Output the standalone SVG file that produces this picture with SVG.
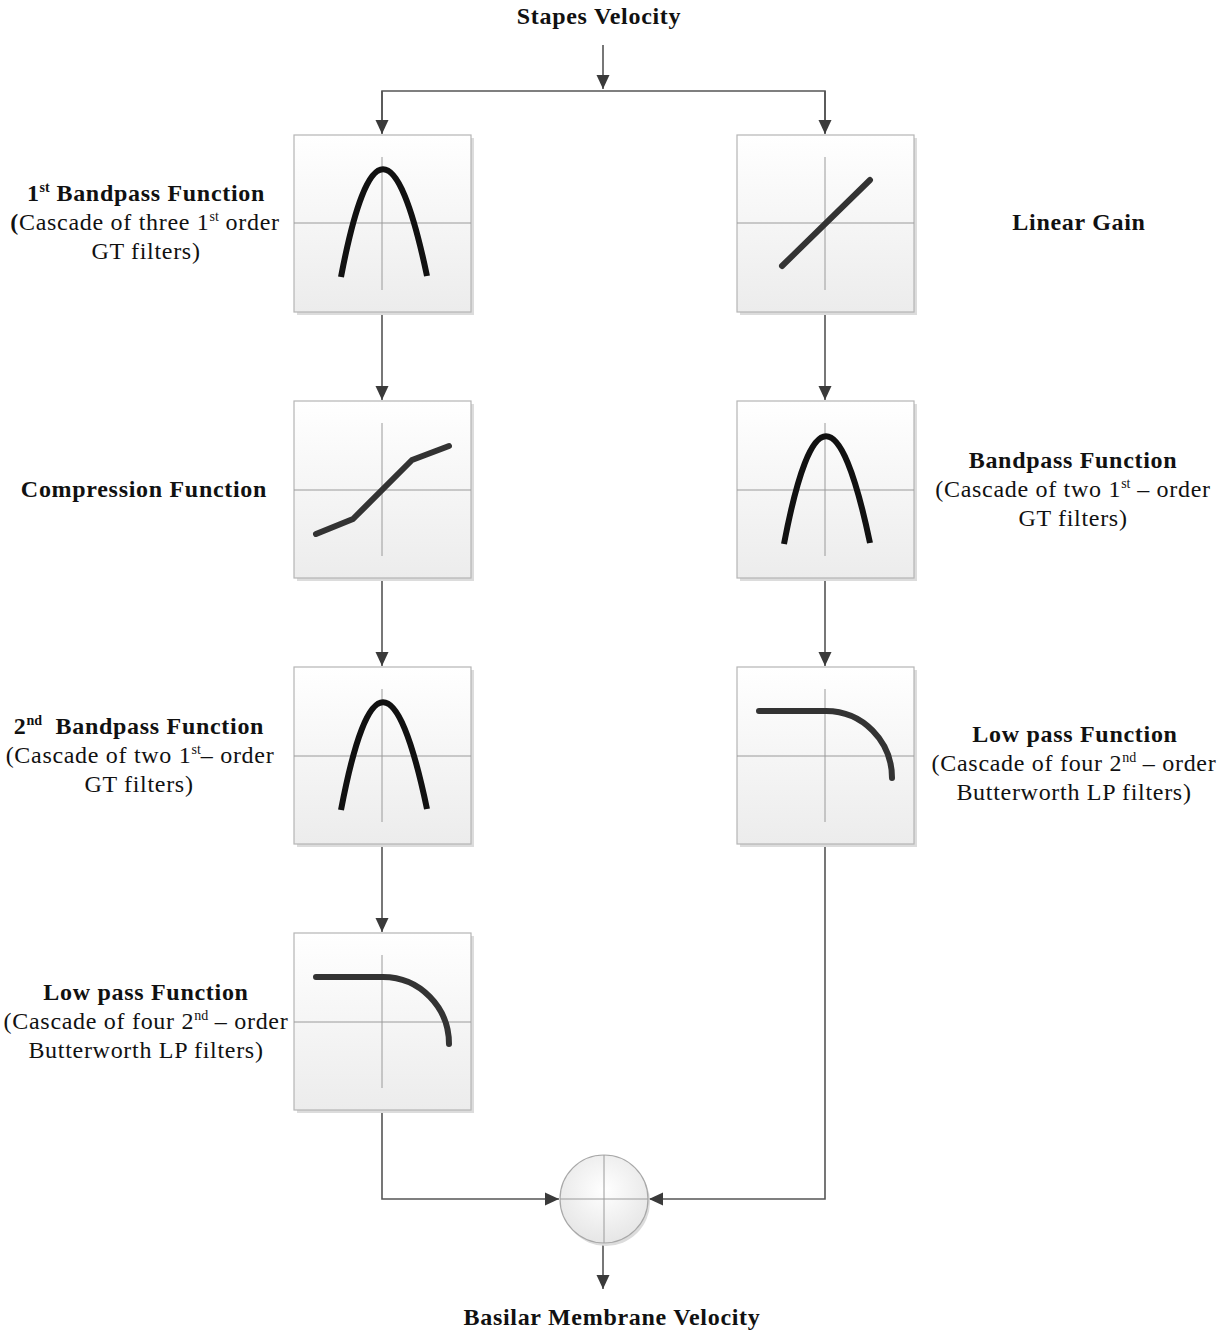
<svg xmlns="http://www.w3.org/2000/svg" width="1228" height="1333" viewBox="0 0 1228 1333">
<style>
text{font-family:"Liberation Serif","Times New Roman",serif;font-size:24px;letter-spacing:0.7px;fill:#111;text-anchor:middle}
.b{font-weight:bold}
.sup{font-size:14px;letter-spacing:0}
.box{fill:url(#bg);stroke:#b5b5b5;stroke-width:1.2}
.sh{fill:#dcdcdc}
.ax{stroke:#9a9a9a;stroke-width:1;fill:none}
.cv{stroke:#111;stroke-width:6;fill:none;stroke-linecap:butt}
.cv2{stroke:#333;stroke-width:6;fill:none;stroke-linecap:round;stroke-linejoin:round}
.ln{stroke:#555;stroke-width:1.6;fill:none}
</style>
<defs>
<linearGradient id="bg" x1="0" y1="0" x2="0" y2="1">
<stop offset="0" stop-color="#ffffff"/>
<stop offset="1" stop-color="#ececec"/>
</linearGradient>
<radialGradient id="cg" cx="0.5" cy="0.4" r="0.6">
<stop offset="0" stop-color="#ffffff"/>
<stop offset="1" stop-color="#e6e6e6"/>
</radialGradient>
<marker id="ar" markerWidth="14" markerHeight="14" viewBox="0 0 14 14" refX="14" refY="7" orient="auto" markerUnits="userSpaceOnUse">
<path d="M0,0.5 L14,7 L0,13.5 Z" fill="#3a3a3a"/>
</marker>
</defs>
<rect width="1228" height="1333" fill="#fff"/>

<g id="connectors">
<line class="ln" x1="603" y1="45" x2="603" y2="89" marker-end="url(#ar)"/>
<polyline class="ln" points="382,133 382,91 825,91 825,133" />
<line class="ln" x1="382" y1="91" x2="382" y2="134" marker-end="url(#ar)"/>
<line class="ln" x1="825" y1="91" x2="825" y2="134" marker-end="url(#ar)"/>
<line class="ln" x1="382" y1="313" x2="382" y2="400" marker-end="url(#ar)"/>
<line class="ln" x1="382" y1="579" x2="382" y2="666" marker-end="url(#ar)"/>
<line class="ln" x1="382" y1="846" x2="382" y2="932" marker-end="url(#ar)"/>
<line class="ln" x1="825" y1="313" x2="825" y2="400" marker-end="url(#ar)"/>
<line class="ln" x1="825" y1="579" x2="825" y2="666" marker-end="url(#ar)"/>
<polyline class="ln" points="382,1112 382,1199 559,1199" marker-end="url(#ar)"/>
<polyline class="ln" points="825,846 825,1199 649,1199" marker-end="url(#ar)"/>
<line class="ln" x1="603" y1="1243" x2="603" y2="1289" marker-end="url(#ar)"/>
</g>

<g id="input-label"><text class="b" x="599" y="24">Stapes Velocity</text></g>
<g id="output-label"><text class="b" x="612" y="1325">Basilar Membrane Velocity</text></g>

<g id="bp1">
<rect class="sh" x="297" y="138" width="177" height="177"/>
<rect class="box" x="294" y="135" width="177" height="177"/>
<line class="ax" x1="294" y1="223" x2="471" y2="223"/>
<line class="ax" x1="382" y1="157" x2="382" y2="290"/>
<path class="cv" d="M341 277 Q382 62 427 276"/>
<text class="b" x="146" y="201">1<tspan class="sup" dy="-9">st</tspan><tspan dy="9"> Bandpass Function</tspan></text>
<text x="145" y="230"><tspan class="b">(</tspan>Cascade of three 1<tspan class="sup" dy="-9">st</tspan><tspan dy="9"> order</tspan></text>
<text x="146" y="259">GT filters)</text>
</g>

<g id="comp">
<rect class="sh" x="297" y="404" width="177" height="177"/>
<rect class="box" x="294" y="401" width="177" height="177"/>
<line class="ax" x1="294" y1="490" x2="471" y2="490"/>
<line class="ax" x1="382" y1="423" x2="382" y2="556"/>
<polyline class="cv2" points="316,534 353,519 412,460 449,446"/>
<text class="b" x="144" y="497">Compression Function</text>
</g>

<g id="bp2">
<rect class="sh" x="297" y="670" width="177" height="177"/>
<rect class="box" x="294" y="667" width="177" height="177"/>
<line class="ax" x1="294" y1="756" x2="471" y2="756"/>
<line class="ax" x1="382" y1="689" x2="382" y2="822"/>
<path class="cv" d="M341 810 Q382 595 427 809"/>
<text class="b" x="139" y="734">2<tspan class="sup" dy="-9">nd</tspan><tspan dy="9">&#160; Bandpass Function</tspan></text>
<text x="140" y="763">(Cascade of two 1<tspan class="sup" dy="-9">st</tspan><tspan dy="9">– order</tspan></text>
<text x="139" y="792">GT filters)</text>
</g>

<g id="lp1">
<rect class="sh" x="297" y="936" width="177" height="177"/>
<rect class="box" x="294" y="933" width="177" height="177"/>
<line class="ax" x1="294" y1="1022" x2="471" y2="1022"/>
<line class="ax" x1="382" y1="955" x2="382" y2="1088"/>
<path class="cv2" d="M316 977 H383 A66 67 0 0 1 449 1044"/>
<text class="b" x="146" y="1000">Low pass Function</text>
<text x="146" y="1029">(Cascade of four 2<tspan class="sup" dy="-9">nd</tspan><tspan dy="9"> – order</tspan></text>
<text x="146" y="1058">Butterworth LP filters)</text>
</g>

<g id="gain">
<rect class="sh" x="740" y="138" width="177" height="177"/>
<rect class="box" x="737" y="135" width="177" height="177"/>
<line class="ax" x1="737" y1="223" x2="914" y2="223"/>
<line class="ax" x1="825" y1="157" x2="825" y2="290"/>
<line class="cv2" x1="782" y1="266" x2="870" y2="180"/>
<text class="b" x="1079" y="230">Linear Gain</text>
</g>

<g id="bp3">
<rect class="sh" x="740" y="404" width="177" height="177"/>
<rect class="box" x="737" y="401" width="177" height="177"/>
<line class="ax" x1="737" y1="490" x2="914" y2="490"/>
<line class="ax" x1="825" y1="423" x2="825" y2="556"/>
<path class="cv" d="M784 544 Q825 329 870 543"/>
<text class="b" x="1073" y="468">Bandpass Function</text>
<text x="1073" y="497">(Cascade of two 1<tspan class="sup" dy="-9">st</tspan><tspan dy="9"> – order</tspan></text>
<text x="1073" y="526">GT filters)</text>
</g>

<g id="lp2">
<rect class="sh" x="740" y="670" width="177" height="177"/>
<rect class="box" x="737" y="667" width="177" height="177"/>
<line class="ax" x1="737" y1="756" x2="914" y2="756"/>
<line class="ax" x1="825" y1="689" x2="825" y2="822"/>
<path class="cv2" d="M759 711 H826 A66 67 0 0 1 892 778"/>
<text class="b" x="1075" y="742">Low pass Function</text>
<text x="1074" y="771">(Cascade of four 2<tspan class="sup" dy="-9">nd</tspan><tspan dy="9"> – order</tspan></text>
<text x="1074" y="800">Butterworth LP filters)</text>
</g>

<g id="sum">
<circle cx="606" cy="1202" r="44" fill="#dcdcdc"/>
<circle cx="604" cy="1199" r="44" fill="url(#cg)" stroke="#a8a8a8" stroke-width="1.2"/>
<line class="ax" x1="560" y1="1199" x2="648" y2="1199"/>
<line class="ax" x1="604" y1="1155" x2="604" y2="1243"/>
</g>
</svg>
